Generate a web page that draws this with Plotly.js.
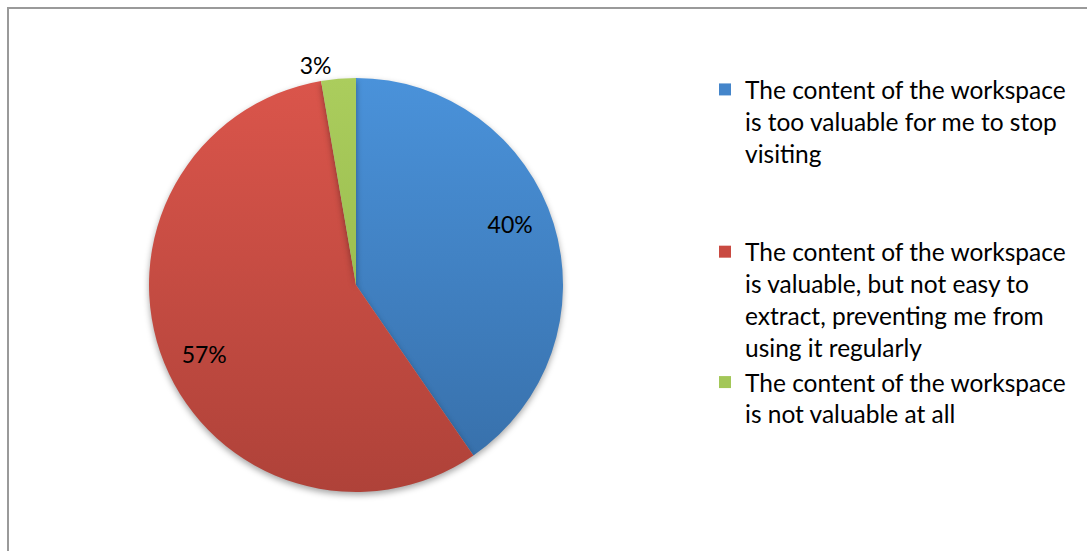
<!DOCTYPE html>
<html>
<head>
<meta charset="utf-8">
<script src="https://cdn.plot.ly/plotly-3.0.1.min.js"></script>
<style>
html,body{margin:0;padding:0;background:#fff;}
#chart{width:1087px;height:551px;}
.pielayer path.surface{filter:drop-shadow(0px 3px 3px rgba(0,0,0,0.35));}
.pielayer .slice:nth-child(1) path.surface{fill:url(#gBlue) !important;}
.pielayer .slice:nth-child(2) path.surface{fill:url(#gRed) !important;}
.pielayer .slice:nth-child(3) path.surface{fill:url(#gGreen) !important;}
</style>
</head>
<body>
<svg style="position:absolute;width:0;height:0" aria-hidden="true">
  <defs>
    <linearGradient id="gBlue" x1="0" y1="0" x2="0" y2="1">
      <stop offset="0" stop-color="#4A92DA"/><stop offset="1" stop-color="#3871AC"/>
    </linearGradient>
    <linearGradient id="gRed" x1="0" y1="0" x2="0" y2="1">
      <stop offset="0" stop-color="#DA554B"/><stop offset="1" stop-color="#AF4239"/>
    </linearGradient>
    <linearGradient id="gGreen" x1="0" y1="0" x2="0" y2="1">
      <stop offset="0" stop-color="#ABCD5D"/><stop offset="1" stop-color="#9BBE50"/>
    </linearGradient>
  </defs>
</svg>
<div id="chart"></div>
<script>
const categories = [
  "The content of the workspace<br>is too valuable for me to stop<br>visiting<br> <br> ",
  "The content of the workspace<br>is valuable, but not easy to<br>extract, preventing me from<br>using it regularly",
  "The content of the workspace<br>is not valuable at all"
];
const values = [40.4, 56.9, 2.7];
const colors = ["#4485CA", "#C94A41", "#A3C758"];
const textPositions = ["inside", "inside", "outside"];

// label placement padding (non-breaking spaces / blank lines) to mimic the original label spots
const NB = "\u00a0";
const pad = n => NB.repeat(n);
const texttemplates = [
  pad(18) + "%{percent:.0%}<br>" + NB + "<br>" + NB,
  NB + "<br>" + NB + "<br>%{percent:.0%}" + pad(19),
  "%{percent:.0%}"
];

const W = 1087, H = 551;
const cx = 356, cy = 285, r = 207;

const trace = {
  type: "pie",
  labels: categories,
  values: values,
  sort: false,
  direction: "clockwise",
  rotation: 0,
  marker: { colors: colors, line: { width: 0 } },
  textposition: textPositions,
  insidetextorientation: "horizontal",
  texttemplate: texttemplates,
  textfont: { family: "Lato, 'Open Sans', sans-serif", size: 23, color: "#000" },
  hoverinfo: "label+percent",
  domain: { x: [(cx - r) / W, (cx + r) / W], y: [1 - (cy + r) / H, 1 - (cy - r) / H] },
  automargin: false
};

const layout = {
  width: W, height: H,
  margin: { l: 0, r: 0, t: 0, b: 0 },
  paper_bgcolor: "#fff",
  font: { family: "Lato, 'Open Sans', sans-serif", color: "#000" },
  showlegend: true,
  legend: {
    x: 705 / W, xanchor: "left",
    y: 1 - 67 / H, yanchor: "top",
    valign: "top",
    font: { family: "Lato, 'Open Sans', sans-serif", size: 24.5, color: "#000" },
    itemwidth: 30,
    bgcolor: "rgba(0,0,0,0)",
    tracegroupgap: 0
  },
  shapes: [{
    type: "rect", xref: "paper", yref: "paper",
    x0: 8 / W, x1: 1.05, y0: -0.05, y1: 1 - 8 / H,
    line: { color: "#9A9A9A", width: 2 }
  }]
};

Plotly.newPlot("chart", [trace], layout, { displayModeBar: false, staticPlot: true });
</script>
</body>
</html>
